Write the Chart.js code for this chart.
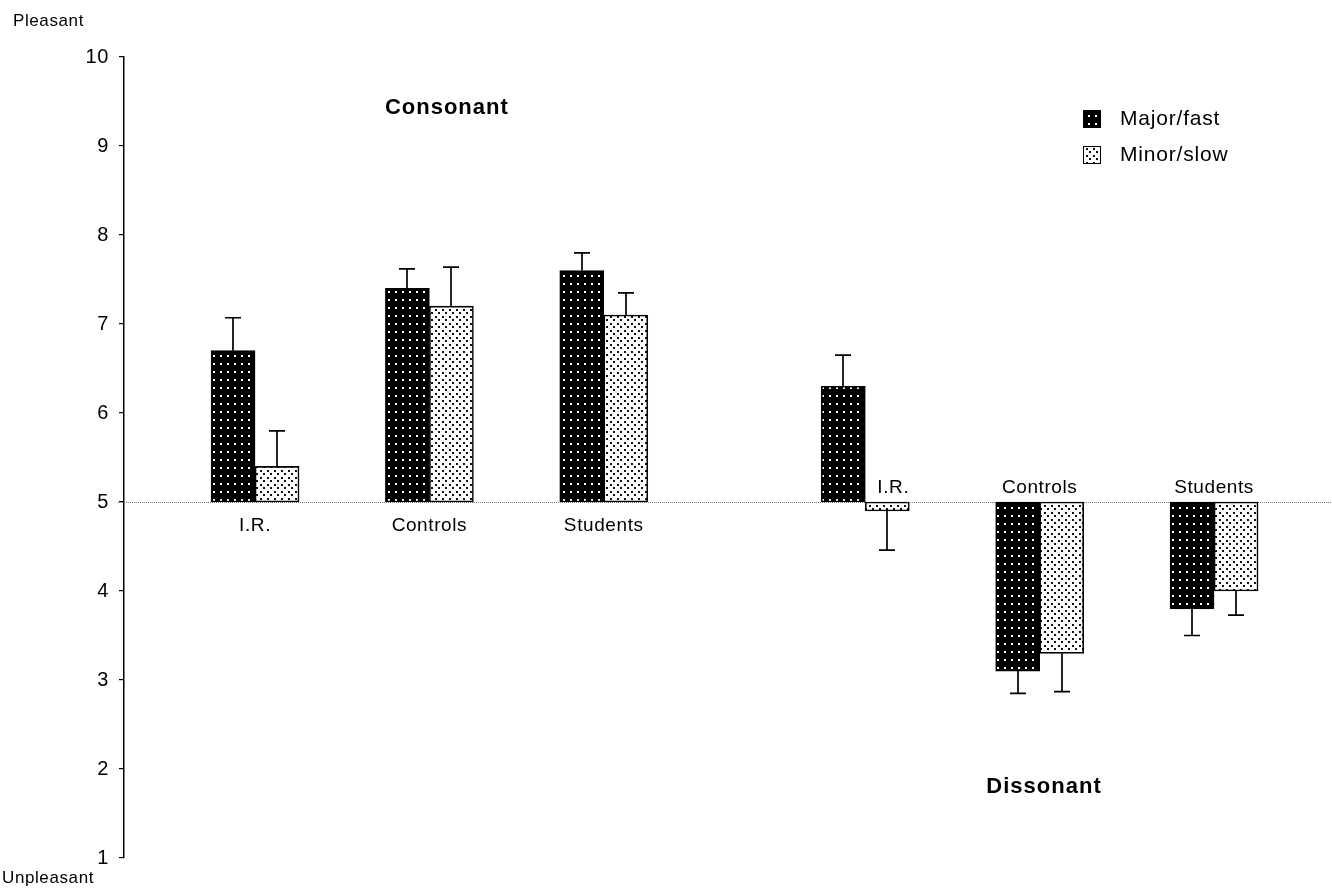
<!DOCTYPE html>
<html>
<head>
<meta charset="utf-8">
<script src="https://cdn.jsdelivr.net/npm/chart.js@4.4.1/dist/chart.umd.min.js"></script>
<style>
  html, body { margin: 0; padding: 0; background: #fff; }
  #wrap { width: 1332px; height: 894px; position: relative; }
</style>
</head>
<body>
<div id="wrap"><canvas id="c" width="1332" height="894"></canvas></div>
<script>
// Pleasantness ratings (1 = unpleasant, 10 = pleasant) per group and condition
const groupLabels = ['I.R.', 'Controls', 'Students', 'I.R.', 'Controls', 'Students'];
const groupSlots = [1, 3, 5, 8, 10, 12];          // slot positions along x (gap between conditions)
const conditionLabels = ['Consonant', 'Dissonant'];
const seriesNames = ['Major/fast', 'Minor/slow'];
const majorFast = [6.7, 7.4, 7.6, 6.3, 3.1, 3.8];
const minorSlow = [5.4, 7.2, 7.1, 4.9, 3.3, 4.0];
const majorFastErr = [0.37, 0.22, 0.20, 0.35, 0.25, 0.30];
const minorSlowErr = [0.40, 0.44, 0.25, 0.44, 0.43, 0.27];
const yTicks = [1, 2, 3, 4, 5, 6, 7, 8, 9, 10];
const neutral = 5;
const scaleEnds = ['Pleasant', 'Unpleasant'];

const FONT = "'Liberation Sans', Arial, Helvetica, sans-serif";

// dotted fill textures
function dotPattern(bg, fg, w, h, dots, s) {
  const c = document.createElement('canvas');
  c.width = w; c.height = h;
  const g = c.getContext('2d');
  g.fillStyle = bg; g.fillRect(0, 0, w, h);
  g.fillStyle = fg;
  dots.forEach(([x, y]) => g.fillRect(x, y, s, s));
  return g.createPattern(c, 'repeat');
}
const ctx = document.getElementById('c').getContext('2d');
const darkFill = dotPattern('#000', '#fff', 7, 8, [[3, 3]], 2);
const lightFill = dotPattern('#fff', '#111', 7, 7, [[1, 1], [4, 4]], 2);

const errors = [majorFastErr, minorSlowErr];

const baseLinePlugin = {
  id: 'neutralLine',
  beforeDraw(chart) {
    chart.ctx.letterSpacing = '0.6px';
  },
  beforeDatasetsDraw(chart) {
    const { ctx, scales: { y }, chartArea } = chart;
    const py = Math.round(y.getPixelForValue(neutral)) + 0.5;
    ctx.save();
    ctx.strokeStyle = '#777';
    ctx.lineWidth = 1;
    ctx.setLineDash([1, 1]);
    ctx.beginPath();
    ctx.moveTo(chartArea.left - 6, py);
    ctx.lineTo(chart.width, py);
    ctx.stroke();
    ctx.restore();
  }
};

const errorBarPlugin = {
  id: 'errorBars',
  afterDatasetsDraw(chart) {
    const { ctx, scales: { y } } = chart;
    ctx.save();
    ctx.strokeStyle = '#000';
    ctx.lineWidth = 1.7;
    chart.data.datasets.forEach((ds, di) => {
      const meta = chart.getDatasetMeta(di);
      meta.data.forEach((bar, i) => {
        const v = ds.data[i].y[1];
        const dir = v >= neutral ? 1 : -1;
        const y0 = y.getPixelForValue(v);
        const y1 = y.getPixelForValue(v + dir * errors[di][i]);
        const x = Math.round(bar.x);
        ctx.beginPath();
        ctx.moveTo(x, y0);
        ctx.lineTo(x, y1);
        ctx.moveTo(x - 8, y1);
        ctx.lineTo(x + 8, y1);
        ctx.stroke();
      });
    });
    ctx.restore();
  }
};

const textPlugin = {
  id: 'annotations',
  afterDraw(chart) {
    const { ctx, scales: { x, y } } = chart;
    ctx.save();
    ctx.fillStyle = '#000';
    ctx.textBaseline = 'middle';

    // group labels: below the neutral line for consonant, above it for dissonant
    ctx.font = `19px ${FONT}`;
    ctx.textAlign = 'center';
    groupLabels.forEach((lab, i) => {
      const dissonant = i >= 3;
      let px = x.getPixelForValue(groupSlots[i]);
      // a tall major bar over the line pushes the label over the minor bar
      if (dissonant && majorFast[i] > neutral) {
        px = chart.getDatasetMeta(1).data[i].x + 6;
      }
      const py = y.getPixelForValue(neutral) + (dissonant ? -14 : 24);
      ctx.fillText(lab, px, py);
    });

    // condition headings
    ctx.font = `bold 22px ${FONT}`;
    ctx.letterSpacing = '1px';
    ctx.fillText(conditionLabels[0], x.getPixelForValue(3.2), y.getPixelForValue(9.43));
    ctx.fillText(conditionLabels[1], x.getPixelForValue(10.05), y.getPixelForValue(1.8));

    // scale end captions
    ctx.letterSpacing = '0.6px';
    ctx.font = `17px ${FONT}`;
    ctx.textAlign = 'left';
    ctx.fillText(scaleEnds[0], 13, 21);
    ctx.fillText(scaleEnds[1], 2, 878);

    // legend
    ctx.font = `21px ${FONT}`;
    ctx.letterSpacing = '0.8px';
    chart.data.datasets.forEach((ds, di) => {
      const top = 110 + di * 36;
      ctx.fillStyle = ds.backgroundColor;
      ctx.fillRect(1083, top, 18, 18);
      ctx.strokeStyle = '#000';
      ctx.lineWidth = 1;
      ctx.strokeRect(1083.5, top + 0.5, 17, 17);
      ctx.fillStyle = '#000';
      ctx.fillText(ds.label, 1120, top + 9);
    });
    ctx.restore();
  }
};

const toPoints = vals => vals.map((v, i) => ({ x: groupSlots[i], y: [neutral, v] }));

new Chart(ctx, {
  type: 'bar',
  data: {
    datasets: [
      { label: seriesNames[0], data: toPoints(majorFast), backgroundColor: darkFill,
        borderColor: '#000', borderWidth: 1.6, borderSkipped: false, barThickness: 44 },
      { label: seriesNames[1], data: toPoints(minorSlow), backgroundColor: lightFill,
        borderColor: '#000', borderWidth: 1.6, borderSkipped: false, barThickness: 44 }
    ]
  },
  options: {
    responsive: false,
    animation: false,
    devicePixelRatio: 1,
    layout: { padding: { top: 57, bottom: 36, left: 0, right: 0 } },
    plugins: { legend: { display: false }, tooltip: { enabled: false } },
    scales: {
      x: { type: 'linear', display: false, offset: false, grid: { offset: false },
           min: -0.503, max: 13.353 },
      y: {
        min: 1, max: 10,
        afterFit(s) { s.width = 124; },
        afterBuildTicks(s) { s.ticks = yTicks.map(v => ({ value: v })); },
        ticks: { color: '#000', font: { family: FONT, size: 20 }, padding: 10 },
        grid: { drawOnChartArea: false, drawTicks: true, tickLength: 5, color: '#000', lineWidth: 1.2 },
        border: { color: '#000', width: 1.5 }
      }
    }
  },
  plugins: [baseLinePlugin, errorBarPlugin, textPlugin]
});
</script>
</body>
</html>
